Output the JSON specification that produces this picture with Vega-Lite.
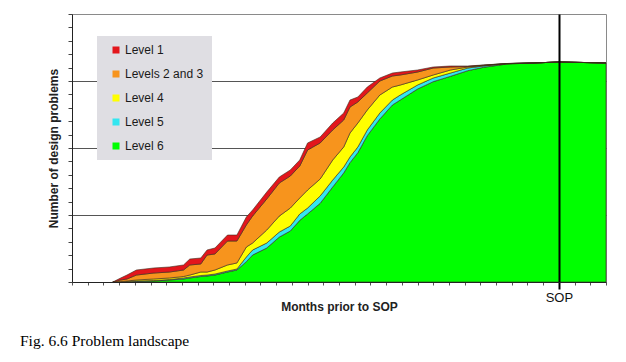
{
  "$schema": "https://vega.github.io/schema/vega-lite/v6.json",
  "width": 534,
  "height": 268,
  "autosize": "none",
  "padding": {"left": 72, "top": 14, "right": 20, "bottom": 80},
  "background": "white",
  "config": {"view": {"stroke": "#8a8a8a", "strokeWidth": 1}, "font": "Liberation Sans"},
  "title": {"text": "Fig. 6.6 Problem landscape", "orient": "bottom", "anchor": "start", "frame": "group", "dx": -52, "offset": 22, "font": "Liberation Serif", "fontSize": 15.5, "fontWeight": "normal", "color": "#000"},
  "data": {"values": [
    {"m": -28.4, "lv6": 0, "lv5": 0, "lv4": 0, "lv23": 0, "lv1": 0},
    {"m": -27.9, "lv6": 0, "lv5": 0, "lv4": 0.7, "lv23": 3.0, "lv1": 6.0},
    {"m": -27.5, "lv6": 0, "lv5": 0.7, "lv4": 1.5, "lv23": 4.5, "lv1": 10.4},
    {"m": -26.9, "lv6": 0.7, "lv5": 1.5, "lv4": 3.0, "lv23": 10.4, "lv1": 17.9},
    {"m": -25.8, "lv6": 1.5, "lv5": 2.2, "lv4": 4.5, "lv23": 13.4, "lv1": 20.9},
    {"m": -24.8, "lv6": 3.0, "lv5": 3.7, "lv4": 6.0, "lv23": 14.9, "lv1": 22.4},
    {"m": -23.9, "lv6": 4.5, "lv5": 6.0, "lv4": 8.2, "lv23": 17.9, "lv1": 25.4},
    {"m": -23.5, "lv6": 6.0, "lv5": 7.5, "lv4": 10.4, "lv23": 25.4, "lv1": 34.3},
    {"m": -22.8, "lv6": 8.2, "lv5": 9.7, "lv4": 14.9, "lv23": 26.9, "lv1": 35.8},
    {"m": -22.4, "lv6": 9.0, "lv5": 10.4, "lv4": 14.9, "lv23": 40.3, "lv1": 47.8},
    {"m": -21.9, "lv6": 10.4, "lv5": 11.9, "lv4": 17.9, "lv23": 41.8, "lv1": 50.7},
    {"m": -21.1, "lv6": 14.9, "lv5": 16.4, "lv4": 25.4, "lv23": 61.2, "lv1": 70.1},
    {"m": -20.5, "lv6": 17.9, "lv5": 19.4, "lv4": 28.4, "lv23": 61.2, "lv1": 70.1},
    {"m": -19.9, "lv6": 30.3, "lv5": 37.3, "lv4": 52.2, "lv23": 85.1, "lv1": 97.0},
    {"m": -19.5, "lv6": 40.3, "lv5": 47.8, "lv4": 58.2, "lv23": 98.5, "lv1": 107.5},
    {"m": -18.6, "lv6": 50.7, "lv5": 58.2, "lv4": 77.6, "lv23": 123.9, "lv1": 134.3},
    {"m": -17.8, "lv6": 67.1, "lv5": 74.6, "lv4": 98.5, "lv23": 147.8, "lv1": 156.7},
    {"m": -17.1, "lv6": 76.1, "lv5": 83.6, "lv4": 110.4, "lv23": 158.2, "lv1": 167.2},
    {"m": -16.5, "lv6": 92.0, "lv5": 101.5, "lv4": 125.4, "lv23": 173.1, "lv1": 182.1},
    {"m": -16.0, "lv6": 101.5, "lv5": 110.4, "lv4": 137.3, "lv23": 197.0, "lv1": 207.5},
    {"m": -15.2, "lv6": 117.4, "lv5": 128.4, "lv4": 153.7, "lv23": 207.5, "lv1": 216.4},
    {"m": -14.4, "lv6": 141.8, "lv5": 152.2, "lv4": 182.1, "lv23": 226.9, "lv1": 237.3},
    {"m": -13.7, "lv6": 162.7, "lv5": 171.6, "lv4": 201.5, "lv23": 241.8, "lv1": 252.2},
    {"m": -13.3, "lv6": 178.1, "lv5": 186.6, "lv4": 222.4, "lv23": 261.2, "lv1": 271.6},
    {"m": -12.8, "lv6": 193.0, "lv5": 201.5, "lv4": 237.3, "lv23": 268.7, "lv1": 276.1},
    {"m": -12.2, "lv6": 218.4, "lv5": 226.9, "lv4": 256.7, "lv23": 282.1, "lv1": 291.0},
    {"m": -11.4, "lv6": 243.3, "lv5": 252.2, "lv4": 279.1, "lv23": 300.0, "lv1": 304.5},
    {"m": -10.6, "lv6": 264.2, "lv5": 271.6, "lv4": 291.0, "lv23": 307.5, "lv1": 311.9},
    {"m": -10.1, "lv6": 271.6, "lv5": 279.1, "lv4": 294.0, "lv23": 309.0, "lv1": 313.4},
    {"m": -9.0, "lv6": 288.0, "lv5": 294.0, "lv4": 301.5, "lv23": 313.4, "lv1": 316.4},
    {"m": -8.0, "lv6": 299.0, "lv5": 304.5, "lv4": 309.0, "lv23": 319.4, "lv1": 320.9},
    {"m": -6.9, "lv6": 307.0, "lv5": 311.9, "lv4": 316.4, "lv23": 320.9, "lv1": 322.4},
    {"m": -5.8, "lv6": 315.4, "lv5": 319.4, "lv4": 320.9, "lv23": 321.6, "lv1": 322.4},
    {"m": -4.8, "lv6": 320.4, "lv5": 322.4, "lv4": 323.1, "lv23": 323.6, "lv1": 323.9},
    {"m": -3.3, "lv6": 325.4, "lv5": 325.9, "lv4": 326.0, "lv23": 326.1, "lv1": 326.1},
    {"m": -1.6, "lv6": 326.9, "lv5": 326.9, "lv4": 326.9, "lv23": 326.9, "lv1": 326.9},
    {"m": 0, "lv6": 328.4, "lv5": 328.4, "lv4": 328.4, "lv23": 328.4, "lv1": 328.4},
    {"m": 3, "lv6": 326.9, "lv5": 326.9, "lv4": 326.9, "lv23": 326.9, "lv1": 326.9}
  ]},
  "encoding": {
    "x": {"field": "m", "type": "quantitative", "scale": {"domain": [-31, 3], "nice": false, "zero": false},
      "axis": {"title": "Months prior to SOP", "values": [-31,-30,-29,-28,-27,-26,-25,-24,-23,-22,-21,-20,-19,-18,-17,-16,-15,-14,-13,-12,-11,-10,-9,-8,-7,-6,-5,-4,-3,-2,-1,0,1,2,3],
        "labelExpr": "datum.value === 0 ? 'SOP' : ''", "labelOverlap": false, "labelFlush": false, "labelFontSize": 13, "labelColor": "#111", "labelPadding": 2, "labelFont": "Liberation Sans",
        "tickSize": {"condition": {"test": "datum.value === 0", "value": 7}, "value": 3},
        "tickWidth": {"condition": {"test": "datum.value === 0", "value": 2}, "value": 1},
        "tickColor": {"condition": {"test": "datum.value === 0", "value": "#000"}, "value": "#555"},
        "domainColor": "#222", "grid": true, "gridColor": "#000", "gridWidth": 2,
        "gridOpacity": {"condition": {"test": "datum.value === 0", "value": 1}, "value": 0},
        "zindex": 1, "titleFont": "Liberation Sans", "titleFontSize": 12, "titleFontWeight": "bold", "titleColor": "#222", "titlePadding": -3}}
  },
  "layer": [
    {"mark": {"type": "area", "stroke": "#3b2b1b", "strokeWidth": 0.6},
     "encoding": {
       "y": {"field": "lv6", "type": "quantitative", "scale": {"domain": [0, 400], "nice": false},
         "axis": {"title": "Number of design problems", "values": [0,20,40,60,80,100,120,140,160,180,200,220,240,260,280,300,320,340,360,380,400], "labels": false, "tickSize": 4, "tickColor": "#444", "domainColor": "#222", "grid": true, "gridColor": "#555", "gridWidth": 1, "gridOpacity": {"condition": {"test": "datum.value % 100 === 0 && datum.value > 0 && datum.value < 400", "value": 1}, "value": 0}, "titleFont": "Liberation Sans", "titleFontSize": 12, "titleFontWeight": "bold", "titleColor": "#222", "titlePadding": 7}},
       "color": {"datum": "Level 6", "type": "nominal",
         "scale": {"domain": ["Level 1", "Levels 2 and 3", "Level 4", "Level 5", "Level 6"], "range": ["#e3161c", "#f7941d", "#ffff00", "#33e6f0", "#00ff00"]},
         "legend": {"title": null, "orient": "none", "legendX": 25, "legendY": 22, "fillColor": "#dfdee3", "padding": 8, "symbolType": "square", "symbolSize": 49, "symbolStrokeWidth": 0, "symbolOffset": 5, "labelFontSize": 12, "labelFont": "Liberation Sans", "labelColor": "#1a1a1a", "labelOffset": 3, "rowPadding": 12}}
     }},
    {"mark": {"type": "area", "stroke": "#3b2b1b", "strokeWidth": 0.6},
     "encoding": {
       "y": {"field": "lv5", "type": "quantitative", "scale": {"domain": [0, 400], "nice": false},
         "axis": {"title": "Number of design problems", "values": [0,20,40,60,80,100,120,140,160,180,200,220,240,260,280,300,320,340,360,380,400], "labels": false, "tickSize": 4, "tickColor": "#444", "domainColor": "#222", "grid": true, "gridColor": "#555", "gridWidth": 1, "gridOpacity": {"condition": {"test": "datum.value % 100 === 0 && datum.value > 0 && datum.value < 400", "value": 1}, "value": 0}, "titleFont": "Liberation Sans", "titleFontSize": 12, "titleFontWeight": "bold", "titleColor": "#222", "titlePadding": 7}},
       "y2": {"field": "lv6"},
       "color": {"datum": "Level 5", "type": "nominal",
         "scale": {"domain": ["Level 1", "Levels 2 and 3", "Level 4", "Level 5", "Level 6"], "range": ["#e3161c", "#f7941d", "#ffff00", "#33e6f0", "#00ff00"]},
         "legend": {"title": null, "orient": "none", "legendX": 25, "legendY": 22, "fillColor": "#dfdee3", "padding": 8, "symbolType": "square", "symbolSize": 49, "symbolStrokeWidth": 0, "symbolOffset": 5, "labelFontSize": 12, "labelFont": "Liberation Sans", "labelColor": "#1a1a1a", "labelOffset": 3, "rowPadding": 12}}
     }},
    {"mark": {"type": "area", "stroke": "#3b2b1b", "strokeWidth": 0.6},
     "encoding": {
       "y": {"field": "lv4", "type": "quantitative", "scale": {"domain": [0, 400], "nice": false},
         "axis": {"title": "Number of design problems", "values": [0,20,40,60,80,100,120,140,160,180,200,220,240,260,280,300,320,340,360,380,400], "labels": false, "tickSize": 4, "tickColor": "#444", "domainColor": "#222", "grid": true, "gridColor": "#555", "gridWidth": 1, "gridOpacity": {"condition": {"test": "datum.value % 100 === 0 && datum.value > 0 && datum.value < 400", "value": 1}, "value": 0}, "titleFont": "Liberation Sans", "titleFontSize": 12, "titleFontWeight": "bold", "titleColor": "#222", "titlePadding": 7}},
       "y2": {"field": "lv5"},
       "color": {"datum": "Level 4", "type": "nominal",
         "scale": {"domain": ["Level 1", "Levels 2 and 3", "Level 4", "Level 5", "Level 6"], "range": ["#e3161c", "#f7941d", "#ffff00", "#33e6f0", "#00ff00"]},
         "legend": {"title": null, "orient": "none", "legendX": 25, "legendY": 22, "fillColor": "#dfdee3", "padding": 8, "symbolType": "square", "symbolSize": 49, "symbolStrokeWidth": 0, "symbolOffset": 5, "labelFontSize": 12, "labelFont": "Liberation Sans", "labelColor": "#1a1a1a", "labelOffset": 3, "rowPadding": 12}}
     }},
    {"mark": {"type": "area", "stroke": "#3b2b1b", "strokeWidth": 0.6},
     "encoding": {
       "y": {"field": "lv23", "type": "quantitative", "scale": {"domain": [0, 400], "nice": false},
         "axis": {"title": "Number of design problems", "values": [0,20,40,60,80,100,120,140,160,180,200,220,240,260,280,300,320,340,360,380,400], "labels": false, "tickSize": 4, "tickColor": "#444", "domainColor": "#222", "grid": true, "gridColor": "#555", "gridWidth": 1, "gridOpacity": {"condition": {"test": "datum.value % 100 === 0 && datum.value > 0 && datum.value < 400", "value": 1}, "value": 0}, "titleFont": "Liberation Sans", "titleFontSize": 12, "titleFontWeight": "bold", "titleColor": "#222", "titlePadding": 7}},
       "y2": {"field": "lv4"},
       "color": {"datum": "Levels 2 and 3", "type": "nominal",
         "scale": {"domain": ["Level 1", "Levels 2 and 3", "Level 4", "Level 5", "Level 6"], "range": ["#e3161c", "#f7941d", "#ffff00", "#33e6f0", "#00ff00"]},
         "legend": {"title": null, "orient": "none", "legendX": 25, "legendY": 22, "fillColor": "#dfdee3", "padding": 8, "symbolType": "square", "symbolSize": 49, "symbolStrokeWidth": 0, "symbolOffset": 5, "labelFontSize": 12, "labelFont": "Liberation Sans", "labelColor": "#1a1a1a", "labelOffset": 3, "rowPadding": 12}}
     }},
    {"mark": {"type": "area", "stroke": "#3b2b1b", "strokeWidth": 0.6},
     "encoding": {
       "y": {"field": "lv1", "type": "quantitative", "scale": {"domain": [0, 400], "nice": false},
         "axis": {"title": "Number of design problems", "values": [0,20,40,60,80,100,120,140,160,180,200,220,240,260,280,300,320,340,360,380,400], "labels": false, "tickSize": 4, "tickColor": "#444", "domainColor": "#222", "grid": true, "gridColor": "#555", "gridWidth": 1, "gridOpacity": {"condition": {"test": "datum.value % 100 === 0 && datum.value > 0 && datum.value < 400", "value": 1}, "value": 0}, "titleFont": "Liberation Sans", "titleFontSize": 12, "titleFontWeight": "bold", "titleColor": "#222", "titlePadding": 7}},
       "y2": {"field": "lv23"},
       "color": {"datum": "Level 1", "type": "nominal",
         "scale": {"domain": ["Level 1", "Levels 2 and 3", "Level 4", "Level 5", "Level 6"], "range": ["#e3161c", "#f7941d", "#ffff00", "#33e6f0", "#00ff00"]},
         "legend": {"title": null, "orient": "none", "legendX": 25, "legendY": 22, "fillColor": "#dfdee3", "padding": 8, "symbolType": "square", "symbolSize": 49, "symbolStrokeWidth": 0, "symbolOffset": 5, "labelFontSize": 12, "labelFont": "Liberation Sans", "labelColor": "#1a1a1a", "labelOffset": 3, "rowPadding": 12}}
     }}
  ]
}
